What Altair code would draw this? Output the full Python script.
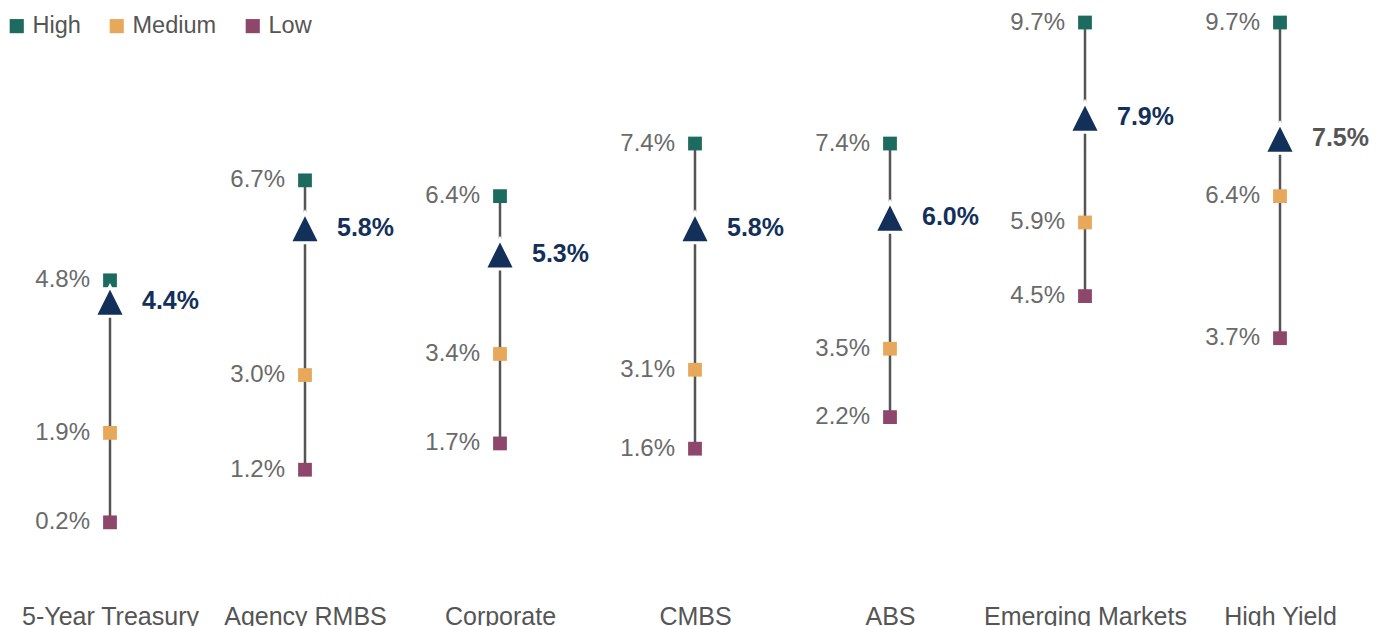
import altair as alt
import pandas as pd

categories = ["5-Year Treasury", "Agency RMBS", "Corporate", "CMBS", "ABS",
              "Emerging Markets", "High Yield"]
high = [4.8, 6.7, 6.4, 7.4, 7.4, 9.7, 9.7]
medium = [1.9, 3.0, 3.4, 3.1, 3.5, 5.9, 6.4]
low = [0.2, 1.2, 1.7, 1.6, 2.2, 4.5, 3.7]
expected = [4.4, 5.8, 5.3, 5.8, 6.0, 7.9, 7.5]
levels = ["High", "Medium", "Low"]
level_colors = ["#1d6b5f", "#e8a85b", "#8f466b"]
exp_label_colors = ["#13305a", "#13305a", "#13305a", "#13305a", "#13305a",
                    "#13305a", "#555555"]

FONT = "Liberation Sans"
TRIANGLE = "M0,-1L1,1L-1,1Z"

rng = pd.DataFrame({"category": categories, "low": low, "high": high,
                    "expected": expected,
                    "exp_label": [f"{v:.1f}%" for v in expected],
                    "exp_color": exp_label_colors})

rows = []
for i, c in enumerate(categories):
    for lvl, vals in zip(levels, [high, medium, low]):
        rows.append({"category": c, "level": lvl, "value": vals[i],
                     "label": f"{vals[i]:.1f}%"})
pts = pd.DataFrame(rows)

x = alt.X("category:N", sort=categories, title=None,
          scale=alt.Scale(type="point", range=[102, 1272], padding=0),
          axis=alt.Axis(domain=False, ticks=False, labelFont=FONT,
                        labelFontSize=25, labelColor="#555555",
                        labelPadding=8, labelAngle=0, grid=False,
                        labelLimit=0))
yscale = alt.Scale(domain=[-1.2, 9.9], nice=False, zero=False)

base_r = alt.Chart(rng).encode(x=x)

rule = base_r.mark_rule(color="#555555", strokeWidth=2.5).encode(
    y=alt.Y("low:Q", scale=yscale, axis=None), y2="high:Q")

squares = alt.Chart(pts).mark_point(shape="square", filled=True, size=190,
                                    opacity=1).encode(
    x=x,
    y=alt.Y("value:Q", scale=yscale, axis=None),
    color=alt.Color("level:N",
                    scale=alt.Scale(domain=levels, range=level_colors),
                    legend=alt.Legend(title=None, orient="none", legendX=-3,
                                      legendY=2, direction="horizontal",
                                      symbolType="square", symbolSize=200,
                                      labelFont=FONT, labelFontSize=23.5,
                                      labelColor="#555555", labelOffset=4,
                                      columnPadding=24, symbolStrokeWidth=0)))

tri = base_r.mark_point(shape=TRIANGLE, filled=True, size=900,
                        color="#13305a", stroke="white", strokeWidth=3,
                        opacity=1).encode(
    y=alt.Y("expected:Q", scale=yscale, axis=None))

vlabels = alt.Chart(pts).mark_text(align="right", baseline="middle", dx=-20,
                                   font=FONT, fontSize=24,
                                   color="#6a6a6a").encode(
    x=x, y=alt.Y("value:Q", scale=yscale, axis=None), text="label:N")

elabels = base_r.mark_text(align="left", baseline="middle", dx=32, font=FONT,
                           fontSize=25, fontWeight="bold").encode(
    y=alt.Y("expected:Q", scale=yscale, axis=None), text="exp_label:N",
    color=alt.Color("exp_color:N", scale=None))

chart = alt.layer(rule, squares, tri, vlabels, elabels).properties(
    width=1361, height=584,
    padding={"left": 0, "top": 4, "right": 0, "bottom": 40},
    autosize=alt.AutoSizeParams(type="none")
).configure_view(stroke=None)

chart.save("out.html", embed_options={"renderer": "svg", "actions": False})
